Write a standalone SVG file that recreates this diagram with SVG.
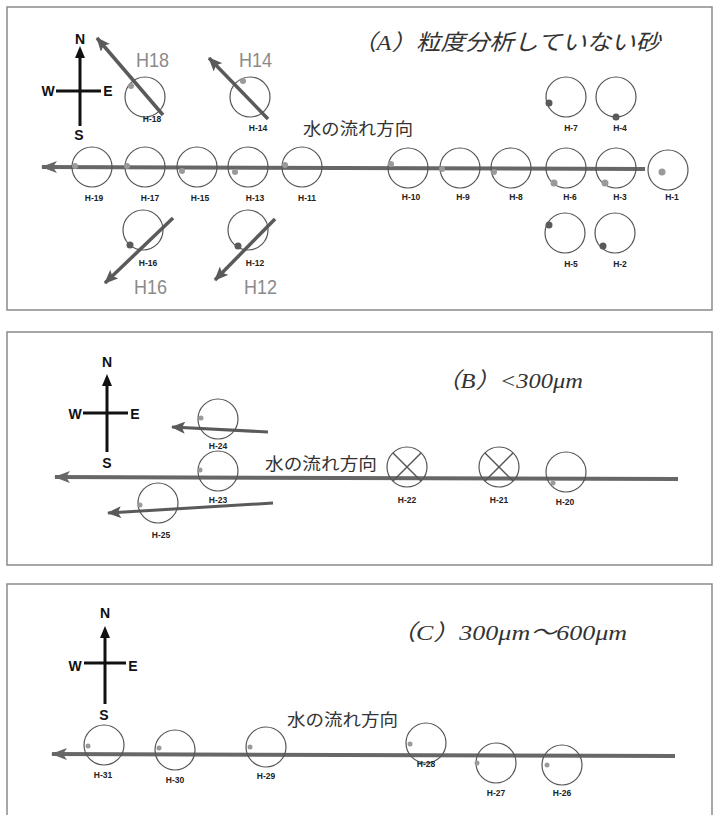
<svg xmlns="http://www.w3.org/2000/svg" width="714" height="815" viewBox="0 0 714 815">
<style>
.panel{fill:none;stroke:#8a8a8a;stroke-width:1.5}
.flow{stroke:#676767;stroke-width:4;fill:none}
.diag{stroke:#5a5a5a;stroke-width:3.5;fill:none}
.thin{stroke-width:3}
.c{fill:none;stroke:#555;stroke-width:1.2}
.dl{fill:#9a9a9a}
.dd{fill:#5a5a5a}
.lab{font-family:"Liberation Sans",Arial,sans-serif;font-weight:bold;font-size:8.5px;fill:#222;text-anchor:middle}
.big{font-family:"Liberation Sans",Arial,sans-serif;font-size:20px;fill:#8a8a8a}
.cmp{font-family:"Liberation Sans",Arial,sans-serif;font-weight:bold;font-size:14px;fill:#111;text-anchor:middle;dominant-baseline:central}
.ttl{font-family:"Liberation Serif","Noto Sans CJK JP",serif;font-style:italic;font-size:22px;fill:#333}
.flowt{font-family:"Noto Sans CJK JP","Liberation Serif",serif;font-size:17px;fill:#333}
.ax{stroke:#111;stroke-width:3;fill:none}
.x{stroke:#555;stroke-width:1.5}
</style>
<defs>
<marker id="ah" markerUnits="userSpaceOnUse" markerWidth="16" markerHeight="12" refX="15" refY="6" orient="auto"><path d="M16,6 L0,0 L4,6 L0,12 z" fill="#676767"/></marker>
<marker id="ad" markerUnits="userSpaceOnUse" markerWidth="14" markerHeight="12" refX="13" refY="6" orient="auto"><path d="M14,6 L0,0 L3,6 L0,12 z" fill="#5a5a5a"/></marker>
</defs>
<rect width="714" height="815" fill="#fff"/>

<!-- Panel A -->
<g id="panelA">
<rect class="panel" x="7" y="7" width="705" height="303"/>
<text class="ttl" x="352" y="50" textLength="308" lengthAdjust="spacingAndGlyphs">（A）粒度分析していない砂</text>
<g id="compassA">
<line class="ax" x1="80" y1="126" x2="80" y2="54"/>
<path d="M80,46 L75,58 L85,58 z" fill="#111"/>
<line class="ax" x1="56" y1="91" x2="101" y2="91"/>
<text class="cmp" x="80" y="39">N</text>
<text class="cmp" x="48" y="91">W</text>
<text class="cmp" x="108" y="91">E</text>
<text class="cmp" x="79" y="135">S</text>
</g>
<text class="flowt" x="303" y="135" textLength="110" lengthAdjust="spacingAndGlyphs">水の流れ方向</text>
</g>
<g id="connectorsA">
<line class="flow" x1="645" y1="169" x2="42" y2="167" marker-end="url(#ah)"/>
<line class="diag" x1="163" y1="115" x2="97" y2="38" marker-end="url(#ad)"/>
<line class="diag" x1="268" y1="119" x2="209" y2="58" marker-end="url(#ad)"/>
<line class="diag" x1="173" y1="218" x2="105" y2="283" marker-end="url(#ad)"/>
<line class="diag" x1="275" y1="219" x2="215" y2="280" marker-end="url(#ad)"/>
</g>
<g id="H-18"><circle class="c" cx="145" cy="97" r="20"/><circle class="dl" cx="131" cy="86" r="3"/><text class="lab" x="152" y="122">H-18</text><text class="big" x="136" y="67" textLength="33" lengthAdjust="spacingAndGlyphs">H18</text></g>
<g id="H-14"><circle class="c" cx="250" cy="97" r="20"/><circle class="dl" cx="243" cy="81" r="3"/><text class="lab" x="258" y="131">H-14</text><text class="big" x="239" y="67" textLength="33" lengthAdjust="spacingAndGlyphs">H14</text></g>
<g id="H-19"><circle class="c" cx="92" cy="167" r="20"/><circle class="dl" cx="75" cy="166" r="3"/><text class="lab" x="94" y="201">H-19</text></g>
<g id="H-17"><circle class="c" cx="145" cy="167" r="20"/><circle class="dl" cx="127" cy="166" r="3"/><text class="lab" x="150" y="201">H-17</text></g>
<g id="H-15"><circle class="c" cx="197" cy="167" r="20"/><circle class="dl" cx="182" cy="171" r="3"/><text class="lab" x="200" y="201">H-15</text></g>
<g id="H-13"><circle class="c" cx="248" cy="167" r="20"/><circle class="dl" cx="235" cy="172" r="3"/><text class="lab" x="255" y="201">H-13</text></g>
<g id="H-11"><circle class="c" cx="302" cy="167" r="20"/><circle class="dl" cx="285" cy="165" r="3"/><text class="lab" x="307" y="201">H-11</text></g>
<g id="H-10"><circle class="c" cx="408" cy="168" r="20"/><circle class="dl" cx="391" cy="164" r="3"/><text class="lab" x="411" y="200">H-10</text></g>
<g id="H-9"><circle class="c" cx="460" cy="168" r="20"/><circle class="dl" cx="442" cy="169" r="3"/><text class="lab" x="463" y="200">H-9</text></g>
<g id="H-8"><circle class="c" cx="511" cy="168" r="20"/><circle class="dl" cx="494" cy="172" r="3"/><text class="lab" x="516" y="200">H-8</text></g>
<g id="H-6"><circle class="c" cx="566" cy="168" r="20"/><circle class="dl" cx="554" cy="183" r="3.5"/><text class="lab" x="570" y="200">H-6</text></g>
<g id="H-3"><circle class="c" cx="616" cy="168" r="20"/><circle class="dl" cx="605" cy="183" r="3.5"/><text class="lab" x="620" y="200">H-3</text></g>
<g id="H-1"><circle class="c" cx="668" cy="170" r="20"/><circle class="dl" cx="662" cy="172" r="3.5"/><text class="lab" x="672" y="200">H-1</text></g>
<g id="H-7"><circle class="c" cx="566" cy="97" r="20"/><circle class="dd" cx="549" cy="103" r="3.5"/><text class="lab" x="571" y="131">H-7</text></g>
<g id="H-4"><circle class="c" cx="616" cy="97" r="20"/><circle class="dd" cx="616" cy="117" r="3.5"/><text class="lab" x="620" y="131">H-4</text></g>
<g id="H-5"><circle class="c" cx="565" cy="233" r="20"/><circle class="dd" cx="549" cy="225" r="3.5"/><text class="lab" x="571" y="267">H-5</text></g>
<g id="H-2"><circle class="c" cx="615" cy="233" r="20"/><circle class="dd" cx="603" cy="246" r="3.5"/><text class="lab" x="620" y="267">H-2</text></g>
<g id="H-16"><circle class="c" cx="143" cy="230" r="20"/><circle class="dd" cx="130" cy="245" r="3.5"/><text class="lab" x="148" y="266">H-16</text><text class="big" x="134" y="294" textLength="33" lengthAdjust="spacingAndGlyphs">H16</text></g>
<g id="H-12"><circle class="c" cx="248" cy="230" r="20"/><circle class="dd" cx="238" cy="246" r="3.5"/><text class="lab" x="255" y="266">H-12</text><text class="big" x="244" y="294" textLength="33" lengthAdjust="spacingAndGlyphs">H12</text></g>

<!-- Panel B -->
<g id="panelB">
<rect class="panel" x="7" y="332" width="705" height="233"/>
<text class="ttl" x="436" y="388" textLength="147" lengthAdjust="spacingAndGlyphs">（B）&lt;300μm</text>
<g id="compassB">
<line class="ax" x1="107" y1="452" x2="107" y2="382"/>
<path d="M107,374 L102,386 L112,386 z" fill="#111"/>
<line class="ax" x1="83" y1="413" x2="128" y2="413"/>
<text class="cmp" x="107" y="362">N</text>
<text class="cmp" x="75" y="414">W</text>
<text class="cmp" x="135" y="414">E</text>
<text class="cmp" x="107" y="463">S</text>
</g>
<text class="flowt" x="265" y="470" textLength="112" lengthAdjust="spacingAndGlyphs">水の流れ方向</text>
</g>
<g id="connectorsB">
<line class="flow" x1="678" y1="479" x2="55" y2="477" marker-end="url(#ah)"/>
<line class="diag thin" x1="268" y1="432" x2="172" y2="427" marker-end="url(#ad)"/>
<line class="diag thin" x1="273" y1="503" x2="108" y2="513" marker-end="url(#ad)"/>
</g>
<g id="H-24"><circle class="c" cx="218" cy="419" r="20"/><circle class="dl" cx="201" cy="418" r="2.5"/><text class="lab" x="218" y="449">H-24</text></g>
<g id="H-23"><circle class="c" cx="218" cy="471" r="20"/><circle class="dl" cx="200" cy="470" r="2.5"/><text class="lab" x="218" y="503">H-23</text></g>
<g id="H-25"><circle class="c" cx="158" cy="503" r="20"/><circle class="dl" cx="140" cy="505" r="2.5"/><text class="lab" x="161" y="538">H-25</text></g>
<g id="H-22"><circle class="c" cx="407" cy="467" r="20"/><line class="x" x1="393" y1="453" x2="421" y2="481"/><line class="x" x1="421" y1="453" x2="393" y2="481"/><text class="lab" x="407" y="503">H-22</text></g>
<g id="H-21"><circle class="c" cx="499" cy="467" r="20"/><line class="x" x1="485" y1="453" x2="513" y2="481"/><line class="x" x1="513" y1="453" x2="485" y2="481"/><text class="lab" x="499" y="503">H-21</text></g>
<g id="H-20"><circle class="c" cx="566" cy="472" r="20"/><circle class="dl" cx="553" cy="483" r="2.5"/><text class="lab" x="565" y="505">H-20</text></g>

<!-- Panel C -->
<g id="panelC">
<path class="panel" d="M7,820 L7,584 L712,584 L712,820"/>
<text class="ttl" x="390" y="640" textLength="237" lengthAdjust="spacingAndGlyphs">（C）300μm～600μm</text>
<g id="compassC">
<line class="ax" x1="105" y1="704" x2="105" y2="634"/>
<path d="M105,626 L100,638 L110,638 z" fill="#111"/>
<line class="ax" x1="84" y1="663" x2="126" y2="663"/>
<text class="cmp" x="105" y="613">N</text>
<text class="cmp" x="75" y="666">W</text>
<text class="cmp" x="133" y="666">E</text>
<text class="cmp" x="104" y="715">S</text>
</g>
<text class="flowt" x="287" y="726" textLength="111" lengthAdjust="spacingAndGlyphs">水の流れ方向</text>
</g>
<g id="connectorsC">
<line class="flow" x1="675" y1="756" x2="52" y2="754" marker-end="url(#ah)"/>
</g>
<g id="H-31"><circle class="c" cx="104" cy="745" r="20"/><circle class="dl" cx="88" cy="746" r="2.5"/><text class="lab" x="103" y="778">H-31</text></g>
<g id="H-30"><circle class="c" cx="175" cy="750" r="20"/><circle class="dl" cx="159" cy="748" r="2.5"/><text class="lab" x="175" y="783">H-30</text></g>
<g id="H-29"><circle class="c" cx="266" cy="747" r="20"/><circle class="dl" cx="250" cy="747" r="2.5"/><text class="lab" x="266" y="779">H-29</text></g>
<g id="H-28"><circle class="c" cx="426" cy="743" r="20"/><circle class="dl" cx="410" cy="744" r="2.5"/><text class="lab" x="426" y="767">H-28</text></g>
<g id="H-27"><circle class="c" cx="496" cy="763" r="20"/><circle class="dl" cx="477" cy="763" r="2.5"/><text class="lab" x="496" y="796">H-27</text></g>
<g id="H-26"><circle class="c" cx="562" cy="765" r="20"/><circle class="dl" cx="547" cy="765" r="2.5"/><text class="lab" x="562" y="796">H-26</text></g>
</svg>
